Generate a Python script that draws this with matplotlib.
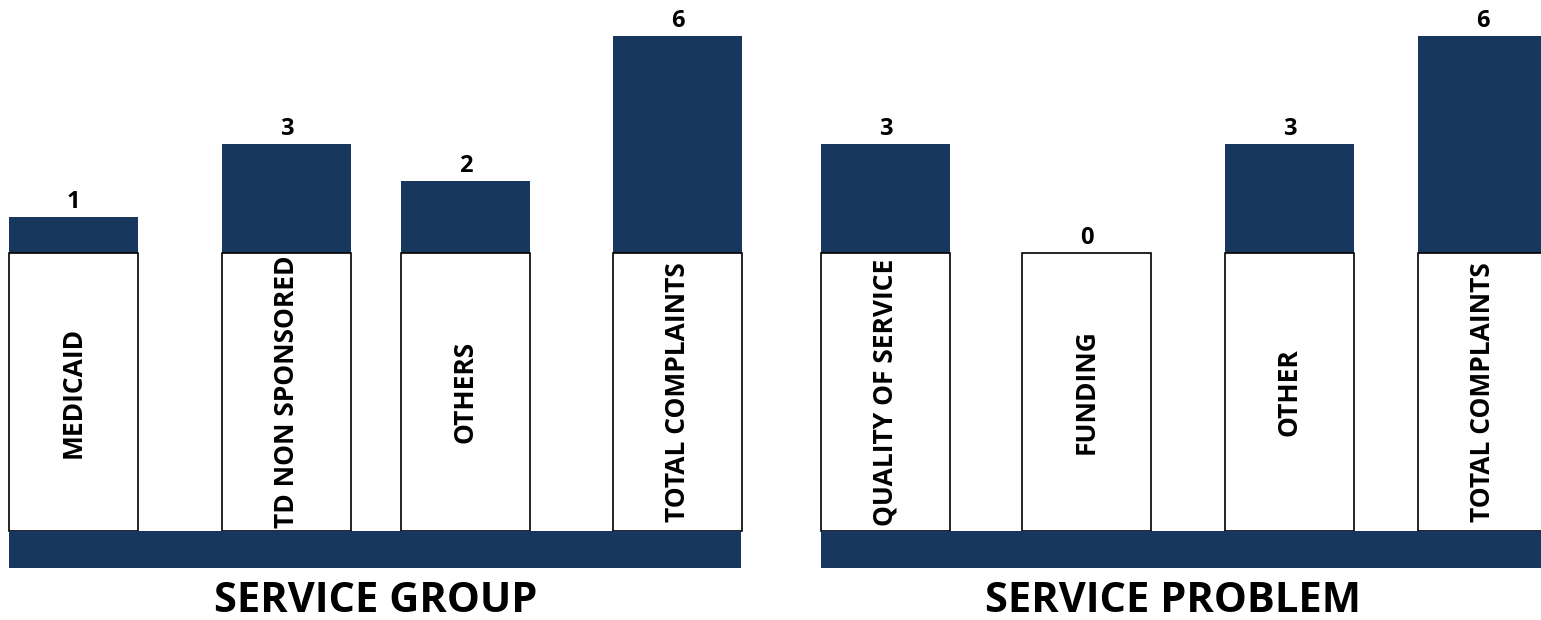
import matplotlib
matplotlib.use("Agg")
import matplotlib.pyplot as plt

plt.rcParams["font.family"] = ["Open Sans", "DejaVu Sans"]
plt.rcParams["font.weight"] = "bold"

# chart data
group_labels = ["MEDICAID", "TD NON SPONSORED", "OTHERS", "TOTAL COMPLAINTS"]
group_counts = [1, 3, 2, 6]
group_title = "SERVICE GROUP"

problem_labels = ["QUALITY OF SERVICE", "FUNDING", "OTHER", "TOTAL COMPLAINTS"]
problem_counts = [3, 0, 3, 6]
problem_title = "SERVICE PROBLEM"

# layout (pixels of the 1541x620 canvas)
W, H = 1541, 620
Y0 = 253          # pixel row of the zero line
PX = 36.2         # pixels per complaint
BOX_BOTTOM = 531
BAND_BOTTOM = 568
TITLE_BASE = 612
BAR_W = 129
NAVY = "#17375E"

panels = [
    dict(labels=group_labels, counts=group_counts, title=group_title,
         lefts=[9, 222, 401, 613], band=(9, 741), title_x=376),
    dict(labels=problem_labels, counts=problem_counts, title=problem_title,
         lefts=[821, 1022, 1225, 1418], band=(821, 1545), title_x=1173),
]


def row(p):
    # pixel row -> complaint units
    return (Y0 - p) / PX


fig = plt.figure(figsize=(W / 100, H / 100), dpi=100)
ax = fig.add_axes([0, 0, 1, 1])
ax.set_xlim(0, W)
ax.set_ylim(row(H), row(0))
ax.axis("off")

for p in panels:
    lefts = p["lefts"]
    centers = [x + BAR_W / 2 for x in lefts]

    ax.bar(lefts, p["counts"], width=BAR_W, align="edge", color=NAVY, linewidth=0)

    ax.bar(lefts, row(BOX_BOTTOM), width=BAR_W, align="edge",
           facecolor="white", edgecolor="black", linewidth=1.2, zorder=3)

    b0, b1 = p["band"]
    ax.bar(b0, row(BAND_BOTTOM) - row(BOX_BOTTOM), bottom=row(BOX_BOTTOM),
           width=b1 - b0, align="edge", color=NAVY, linewidth=0, zorder=4)

    for cx, lab, n in zip(centers, p["labels"], p["counts"]):
        ax.text(cx, row((Y0 + BOX_BOTTOM) / 2), lab, rotation=90,
                ha="center", va="center", fontsize=19, fontweight="bold",
                color="black", zorder=5)
        ax.text(cx, n + 9 / PX, str(n), ha="center", va="baseline",
                fontsize=17, fontweight="bold", color="black")

    ax.text(p["title_x"], row(TITLE_BASE), p["title"], ha="center", va="baseline",
            fontsize=30, fontweight="bold", color="black")

fig.savefig("out.png", dpi=100)
